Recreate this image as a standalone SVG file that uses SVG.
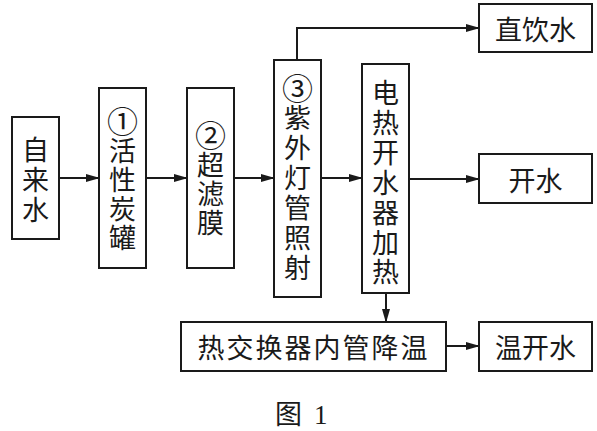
<svg xmlns="http://www.w3.org/2000/svg" width="597" height="431" viewBox="0 0 597 431">
<defs>
<style>
.box{fill:#fff;stroke:#1a1a1a;stroke-width:2}
.t{font-family:"Noto Sans CJK SC","Noto Sans",sans-serif;font-size:27px;fill:#1a1a1a;text-anchor:middle;dominant-baseline:central}
.c{font-size:31px}
.ln{fill:none;stroke:#1a1a1a;stroke-width:2}
</style>
<marker id="ah" markerWidth="14" markerHeight="10" refX="13" refY="5" orient="auto" markerUnits="userSpaceOnUse">
<path d="M0,1 L14,5 L0,9 Z" fill="#1a1a1a"/>
</marker>
</defs>
<rect width="597" height="431" fill="#fff"/>
<g id="connectors">
<line class="ln" x1="59" y1="178" x2="99" y2="178" marker-end="url(#ah)"/>
<line class="ln" x1="146" y1="178" x2="187" y2="178" marker-end="url(#ah)"/>
<line class="ln" x1="234" y1="178" x2="274" y2="178" marker-end="url(#ah)"/>
<line class="ln" x1="321" y1="178" x2="362" y2="178" marker-end="url(#ah)"/>
<line class="ln" x1="409" y1="179" x2="479" y2="179" marker-end="url(#ah)"/>
<polyline class="ln" points="297,60 297,28 479,28" marker-end="url(#ah)"/>
<line class="ln" x1="386" y1="293" x2="386" y2="322" marker-end="url(#ah)"/>
<line class="ln" x1="446" y1="346" x2="479" y2="346" marker-end="url(#ah)"/>
</g>
<g id="n-zilaishui">
<rect class="box" x="12" y="117" width="47" height="122"/>
<text class="t" x="35.5" y="148">自</text>
<text class="t" x="35.5" y="178">来</text>
<text class="t" x="35.5" y="208">水</text>
</g>
<g id="n-huoxingtan">
<rect class="box" x="99" y="88" width="47" height="180"/>
<text class="t c" x="122.5" y="119">①</text>
<text class="t" x="122.5" y="149">活</text>
<text class="t" x="122.5" y="178">性</text>
<text class="t" x="122.5" y="207">炭</text>
<text class="t" x="122.5" y="236">罐</text>
</g>
<g id="n-chaolvmo">
<rect class="box" x="187" y="88" width="47" height="180"/>
<text class="t c" x="210.5" y="133">②</text>
<text class="t" x="210.5" y="163">超</text>
<text class="t" x="210.5" y="192">滤</text>
<text class="t" x="210.5" y="221">膜</text>
</g>
<g id="n-ziwai">
<rect class="box" x="274" y="60" width="47" height="237"/>
<text class="t c" x="297.5" y="86">③</text>
<text class="t" x="297.5" y="116">紫</text>
<text class="t" x="297.5" y="146">外</text>
<text class="t" x="297.5" y="176">灯</text>
<text class="t" x="297.5" y="206">管</text>
<text class="t" x="297.5" y="236">照</text>
<text class="t" x="297.5" y="266">射</text>
</g>
<g id="n-dianre">
<rect class="box" x="362" y="64" width="47" height="229"/>
<text class="t" x="385.5" y="91">电</text>
<text class="t" x="385.5" y="121">热</text>
<text class="t" x="385.5" y="151">开</text>
<text class="t" x="385.5" y="181">水</text>
<text class="t" x="385.5" y="211">器</text>
<text class="t" x="385.5" y="241">加</text>
<text class="t" x="385.5" y="270">热</text>
</g>
<g id="n-zhiyin">
<rect class="box" x="479" y="4" width="113" height="48"/>
<text class="t" x="535.5" y="28">直饮水</text>
</g>
<g id="n-kaishui">
<rect class="box" x="479" y="154" width="113" height="49"/>
<text class="t" x="535.5" y="179">开水</text>
</g>
<g id="n-rejiaohuan">
<rect class="box" x="181" y="322" width="265" height="49"/>
<text class="t" x="313.5" y="346" letter-spacing="2">热交换器内管降温</text>
</g>
<g id="n-wenkai">
<rect class="box" x="479" y="322" width="113" height="49"/>
<text class="t" x="535.5" y="346">温开水</text>
</g>
<text x="275" y="424" font-family="'Noto Sans CJK SC','Liberation Serif',serif" font-size="27" fill="#1a1a1a" xml:space="preserve">图  <tspan font-family="'Liberation Serif',serif">1</tspan></text>
</svg>
